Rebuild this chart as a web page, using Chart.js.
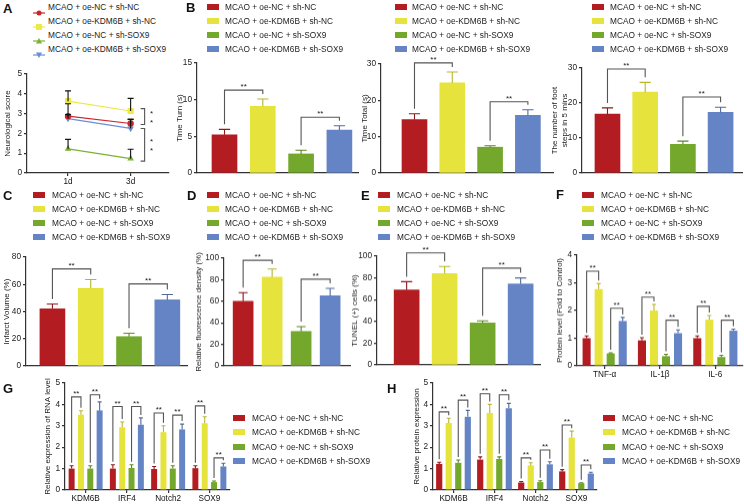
<!DOCTYPE html>
<html>
<head>
<meta charset="utf-8">
<script src="https://cdn.jsdelivr.net/npm/chart.js@4.4.0/dist/chart.umd.min.js"></script>
<style>
html, body { margin: 0; padding: 0; background: #fff; overflow: hidden; }
#fig { position: relative; width: 744px; height: 504px; overflow: hidden; font-family: "Liberation Sans", Arial, sans-serif; }
#fig canvas { position: absolute; }
.lbl { position: absolute; font-weight: bold; font-size: 13px; line-height: 13px; color: #111; }
.box { position: absolute; width: 12px; height: 6px; }
.txt { position: absolute; font-size: 8.3px; line-height: 10px; color: #222; white-space: nowrap; }
.mk { position: absolute; }
</style>
</head>
<body>
<div id="fig"></div>
<script>
// groups and colours
const groups = ['MCAO + oe-NC + sh-NC', 'MCAO + oe-KDM6B + sh-NC', 'MCAO + oe-NC + sh-SOX9', 'MCAO + oe-KDM6B + sh-SOX9'];
const barColors = ['#B31C21', '#E6E33C', '#74A82C', '#6584C5'];
const lineColors = ['#CC262B', '#EDE945', '#7BB231', '#6A8ED6'];

// A - neurological score
const days = ['1d', '3d'];
const scoreNC = [2.87, 2.50];
const scoreKDM = [3.63, 3.13];
const scoreSOX = [1.22, 0.73];
const scoreKDMSOX = [2.75, 2.25];
const scoreErr = [[0.63, 0.22], [0.52, 0.64], [0.48, 0.47], [0.20, 0.45]];
const scoreSig = [[3.25, 2.45], [2.25, 0.60]];

// B - behaviour
const timeTurn = [5.2, 9.1, 2.6, 5.85];
const timeTurnErr = [0.75, 1.0, 0.5, 0.6];
const timeTurnSig = [11.3, 7.6];
const timeTotal = [14.7, 24.8, 7.1, 15.9];
const timeTotalErr = [1.6, 3.0, 0.4, 1.5];
const timeTotalSig = [30.3, 19.6];
const footSteps = [16.8, 23.1, 8.2, 17.3];
const footStepsErr = [1.8, 2.8, 0.9, 1.5];
const footStepsSig = [29.7, 21.7];

// C, D, E
const infarct = [42, 57, 21.5, 48.5];
const infarctErr = [3.5, 6.5, 2.5, 4];
const infarctSig = [71.3, 60.3];
const fluor = [60, 82.5, 32, 65];
const fluorErr = [8, 7.5, 4.5, 7];
const fluorSig = [98, 80.5];
const tunel = [69, 84, 38.5, 74.5];
const tunelErr = [7.5, 6.5, 2, 5.5];
const tunelSig = [103, 89];

// F - cytokines
const cytokines = ['TNF-α', 'IL-1β', 'IL-6'];
const cytoNC = [1.0, 0.92, 1.0];
const cytoKDM = [2.77, 2.0, 1.67];
const cytoSOX = [0.45, 0.35, 0.32];
const cytoKDMSOX = [1.62, 1.18, 1.27];
const cytoErr = [[0.08, 0.10, 0.08], [0.20, 0.22, 0.15], [0.02, 0.07, 0.06], [0.13, 0.12, 0.06]];
const cytoSigA = [3.42, 2.48, 2.15];
const cytoSigB = [2.08, 1.65, 1.65];

// G - RNA, H - protein
const genes = ['KDM6B', 'IRF4', 'Notch2', 'SOX9'];
const rnaNC = [1.0, 1.0, 0.98, 1.02];
const rnaKDM = [3.52, 2.93, 2.7, 3.12];
const rnaSOX = [1.0, 1.03, 1.0, 0.37];
const rnaKDMSOX = [3.72, 3.05, 2.83, 1.1];
const rnaErr = [[0.13, 0.18, 0.12, 0.11], [0.18, 0.25, 0.3, 0.3], [0.13, 0.15, 0.13, 0.05], [0.4, 0.32, 0.25, 0.15]];
const rnaSigA = [4.35, 3.9, 3.6, 3.93];
const rnaSigB = [4.45, 3.9, 3.5, 1.5];
const protNC = [1.22, 1.42, 0.35, 0.87];
const protKDM = [3.13, 3.6, 1.15, 2.45];
const protSOX = [1.27, 1.45, 0.37, 0.32];
const protKDMSOX = [3.42, 3.82, 1.2, 0.77];
const protErr = [[0.08, 0.13, 0.05, 0.08], [0.22, 0.4, 0.12, 0.3], [0.13, 0.1, 0.06, 0.02], [0.3, 0.23, 0.12, 0.06]];
const protSigA = [3.65, 4.5, 1.5, 3.04];
const protSigB = [4.2, 4.45, 1.87, 1.17];

const FF = '"Liberation Sans", Arial, sans-serif';
const AX = '#333';
const fig = document.getElementById('fig');
const EXTRA = {};
Chart.defaults.font.family = FF;
Chart.defaults.color = '#222';
Chart.defaults.animation = false;

function shade(hex, f) {
  const n = parseInt(hex.slice(1), 16);
  const r = Math.round((n >> 16) * f), g = Math.round(((n >> 8) & 255) * f), b = Math.round((n & 255) * f);
  return 'rgb(' + r + ',' + g + ',' + b + ')';
}

// error bars and significance brackets
const marks = {
  id: 'marks',
  afterDatasetsDraw(chart) {
    const ex = EXTRA[chart.canvas.id];
    if (!ex) return;
    const ctx = chart.ctx, ys = chart.scales.y;
    const top = (di, i) => {
      const raw = chart.data.datasets[di].data[i];
      const v = typeof raw === 'object' ? raw.y : raw;
      return ys.getPixelForValue(v + ex.err[di][i]);
    };
    ctx.save();
    ctx.lineWidth = 1.1;
    chart.data.datasets.forEach((ds, di) => {
      const meta = chart.getDatasetMeta(di);
      meta.data.forEach((el, i) => {
        const yt = top(di, i);
        const col = Array.isArray(ds.backgroundColor) ? ds.backgroundColor[i] : ds.backgroundColor;
        const cap = ex.cap || Math.max(4, el.width * 0.45);
        ctx.strokeStyle = ex.errColor || shade(col, 0.8);
        ctx.beginPath();
        ctx.moveTo(el.x, el.y);
        ctx.lineTo(el.x, yt);
        ctx.moveTo(el.x - cap / 2, yt);
        ctx.lineTo(el.x + cap / 2, yt);
        ctx.stroke();
      });
    });
    ctx.strokeStyle = '#555';
    ctx.fillStyle = '#222';
    ctx.font = '8px ' + FF;
    ctx.textAlign = 'center';
    ctx.textBaseline = 'alphabetic';
    (ex.br || []).forEach(([d1, i1, d2, i2, h]) => {
      const e1 = chart.getDatasetMeta(d1).data[i1], e2 = chart.getDatasetMeta(d2).data[i2];
      const yb = ys.getPixelForValue(h);
      ctx.beginPath();
      ctx.moveTo(e1.x, top(d1, i1) - ex.gap);
      ctx.lineTo(e1.x, yb);
      ctx.lineTo(e2.x, yb);
      ctx.lineTo(e2.x, top(d2, i2) - ex.gap);
      ctx.stroke();
      ctx.fillText('**', (e1.x + e2.x) / 2, yb - 1);
    });
    (ex.vbr || []).forEach(([h1, h2]) => {
      const x = chart.scales.x.getPixelForValue(days.length - 1) + ex.vx;
      const y1 = ys.getPixelForValue(h1), y2 = ys.getPixelForValue(h2);
      ctx.beginPath();
      ctx.moveTo(x - 4, y1); ctx.lineTo(x, y1); ctx.lineTo(x, y2); ctx.lineTo(x - 4, y2);
      ctx.stroke();
      const yc = (y1 + y2) / 2;
      ctx.textBaseline = 'middle';
      ctx.fillText('*', x + 7, yc - 3);
      ctx.fillText('*', x + 7, yc + 6);
    });
    ctx.restore();
  }
};
Chart.register(marks);

function yAxis(max, step, title, w) {
  return {
    min: 0, max: max,
    border: { color: AX, width: 1.2 },
    grid: { drawOnChartArea: false, drawTicks: true, tickLength: 3, color: AX, lineWidth: 1.2 },
    ticks: { stepSize: step, font: { size: 8.3 }, color: '#222', padding: 2 },
    title: { display: true, text: title, font: { size: 8 }, color: '#222', padding: 0 },
    afterFit: s => { s.width = w; }
  };
}

function build(id, area, yW, xH, pt, pr, cfg, extra) {
  const c = document.createElement('canvas');
  c.id = id;
  const w = yW + (area.r - area.l) + pr;
  const h = pt + (area.b - area.t) + xH;
  c.width = w; c.height = h;
  c.style.left = (area.l - yW) + 'px';
  c.style.top = (area.t - pt) + 'px';
  c.style.width = w + 'px';
  c.style.height = h + 'px';
  fig.appendChild(c);
  EXTRA[id] = extra;
  cfg.options.responsive = false;
  cfg.options.layout = { padding: { top: pt, right: pr, left: 0, bottom: 0 } };
  cfg.options.plugins = Object.assign({ legend: { display: false }, tooltip: { enabled: false } }, cfg.options.plugins || {});
  new Chart(c, cfg);
}

// four coloured bars, one per group, on an index axis
function fourBars(id, area, yW, pt, vals, errs, sig, max, step, title, first, gapBars, thick) {
  const min = -first, maxX = (area.r - area.l) / gapBars - first;
  build(id, area, yW, 14, pt, 2, {
    type: 'bar',
    data: { datasets: [{ data: vals.map((v, i) => ({ x: i, y: v })), backgroundColor: barColors, barThickness: thick }] },
    options: {
      scales: {
        x: { type: 'linear', offset: false, min: min, max: maxX, ticks: { display: false }, grid: { display: false },
             border: { color: AX, width: 1.2 }, afterFit: s => { s.height = 14; } },
        y: yAxis(max, step, title, yW)
      }
    }
  }, { err: [errs], br: [[0, 0, 0, 1, sig[0]], [0, 2, 0, 3, sig[1]]], gap: 5 });
}

// grouped bars: four groups per category
function groupedBars(id, area, yW, xH, pt, labels, series, errs, sigA, sigB, max, step, title, catPct, barPct) {
  build(id, area, yW, xH, pt, 2, {
    type: 'bar',
    data: {
      labels: labels,
      datasets: series.map((s, i) => ({ data: s, backgroundColor: barColors[i], categoryPercentage: catPct, barPercentage: barPct }))
    },
    options: {
      scales: {
        x: { grid: { display: true, drawOnChartArea: false, offset: false, tickLength: 3, color: AX, lineWidth: 1.2 },
             border: { color: AX, width: 1.2 }, ticks: { font: { size: 8.2 }, color: '#111', padding: 1 },
             afterFit: s => { s.height = xH; } },
        y: yAxis(max, step, title, yW)
      }
    }
  }, {
    err: errs, gap: 3, cap: 4,
    br: labels.flatMap((l, i) => [[0, i, 1, i, sigA[i]], [2, i, 3, i, sigB[i]]])
  });
}

// panel A - line chart
const scoreSeries = [scoreNC, scoreKDM, scoreSOX, scoreKDMSOX];
const pStyles = ['circle', 'rect', 'triangle', 'triangle'];
const pRot = [0, 0, 0, 180];
build('cA', { l: 27, r: 172, t: 74, b: 173 }, 24, 20, 8, 2, {
  type: 'line',
  data: {
    datasets: scoreSeries.map((s, i) => ({
      data: s.map((v, j) => ({ x: j, y: v })),
      borderColor: lineColors[i], backgroundColor: lineColors[i], borderWidth: 1.2,
      pointStyle: pStyles[i], rotation: pRot[i], pointRadius: i === 1 ? 3.5 : 2.6
    }))
  },
  options: {
    scales: {
      x: { type: 'linear', min: -0.656, max: 1.61,
           afterBuildTicks: s => { s.ticks = days.map((d, j) => ({ value: j })); },
           ticks: { callback: v => days[v], font: { size: 8.2 }, color: '#111', padding: 1 },
           grid: { drawOnChartArea: false, tickLength: 3, color: AX, lineWidth: 1.2 },
           border: { color: AX, width: 1.2 }, afterFit: s => { s.height = 20; } },
      y: yAxis(5, 1, 'Neurological score', 24)
    }
  }
}, { err: scoreErr, errColor: '#111', cap: 6, vbr: scoreSig, vx: 14 });

// panel B
fourBars('cB1', { l: 197, r: 358, t: 63, b: 173 }, 22, 8, timeTurn, timeTurnErr, timeTurnSig, 15, 5, 'Time Turn (s)', 0.718, 38.3, 25);
fourBars('cB2', { l: 381, r: 553, t: 64, b: 173 }, 21, 16, timeTotal, timeTotalErr, timeTotalSig, 30, 10, 'Time Total (s)', 0.886, 37.8, 25);
fourBars('cB3', { l: 582, r: 742, t: 68, b: 173 }, 32, 10, footSteps, footStepsErr, footStepsSig, 30, 10, ['The number of foot', 'steps in 5 mins'], 0.676, 37.7, 25);

// panels C, D, E
fourBars('cC', { l: 26, r: 187, t: 257, b: 366 }, 24, 10, infarct, infarctErr, infarctSig, 80, 20, 'Infarct Volume (%)', 0.69, 38.3, 25);
fourBars('cD', { l: 224, r: 350, t: 258, b: 365.5 }, 30, 18, fluor, fluorErr, fluorSig, 100, 20, 'Relative fluorescence density (%)', 0.66, 29, 20);
fourBars('cE', { l: 377, r: 540, t: 256, b: 364.5 }, 27, 16, tunel, tunelErr, tunelSig, 100, 20, 'TUNEL (+) cells (%)', 0.78, 38, 25);

// panel F, G, H
groupedBars('cF', { l: 577, r: 743, t: 255, b: 365.7 }, 22, 18, 8, cytokines, [cytoNC, cytoKDM, cytoSOX, cytoKDMSOX], cytoErr,
  cytoSigA, cytoSigB, 4, 1, 'Protein level (Fold to Control)', 0.87, 0.67);
groupedBars('cG', { l: 65, r: 230, t: 383, b: 490 }, 22, 14, 8, genes, [rnaNC, rnaKDM, rnaSOX, rnaKDMSOX], rnaErr,
  rnaSigA, rnaSigB, 5, 1, 'Relative expression of RNA level', 0.905, 0.64);
groupedBars('cH', { l: 433, r: 597, t: 383, b: 490 }, 21, 14, 8, genes, [protNC, protKDM, protSOX, protKDMSOX], protErr,
  protSigA, protSigB, 5, 1, 'Relative protein expression', 0.93, 0.65);

// legends and panel letters
function legend(boxX, textX, y0, step, lines) {
  groups.forEach((g, i) => {
    const yc = y0 + step * i;
    if (lines) {
      const shapes = [
        '<circle cx="6" cy="4" r="2.5"/>',
        '<rect x="3" y="1" width="6" height="6"/>',
        '<polygon points="6,1 9,6.5 3,6.5"/>',
        '<polygon points="3,1.5 9,1.5 6,7"/>'
      ];
      const m = document.createElement('div');
      m.className = 'mk';
      m.style.left = boxX + 'px'; m.style.top = (yc - 4) + 'px';
      m.innerHTML = '<svg width="12" height="8"><line x1="0" y1="4" x2="12" y2="4" stroke="' + lineColors[i] +
        '" stroke-width="1.2"/><g fill="' + lineColors[i] + '">' + shapes[i] + '</g></svg>';
      fig.appendChild(m);
    } else {
      const b = document.createElement('div');
      b.className = 'box';
      b.style.left = boxX + 'px'; b.style.top = (yc - 3) + 'px';
      b.style.background = barColors[i];
      fig.appendChild(b);
    }
    const t = document.createElement('div');
    t.className = 'txt';
    t.style.left = textX + 'px'; t.style.top = (yc - 5) + 'px';
    t.textContent = g;
    fig.appendChild(t);
  });
}
legend(33, 48, 7, 14, true);
legend(207, 225, 7, 14);
legend(395, 412, 7, 14);
legend(592, 610, 7, 14);
legend(33, 52, 195, 14);
legend(207, 225, 195, 14);
legend(378, 397, 195, 14);
legend(582, 601, 195, 14);
legend(233, 252, 418, 14.3);
legend(603, 622, 418, 14.3);

[['A', 3, 2], ['B', 186, 1], ['C', 3, 189], ['D', 187, 189], ['E', 361, 189], ['F', 556, 188], ['G', 3, 382], ['H', 387, 382]].forEach(([s, x, y]) => {
  const d = document.createElement('div');
  d.className = 'lbl';
  d.style.left = x + 'px'; d.style.top = y + 'px';
  d.textContent = s;
  fig.appendChild(d);
});
</script>
</body>
</html>
